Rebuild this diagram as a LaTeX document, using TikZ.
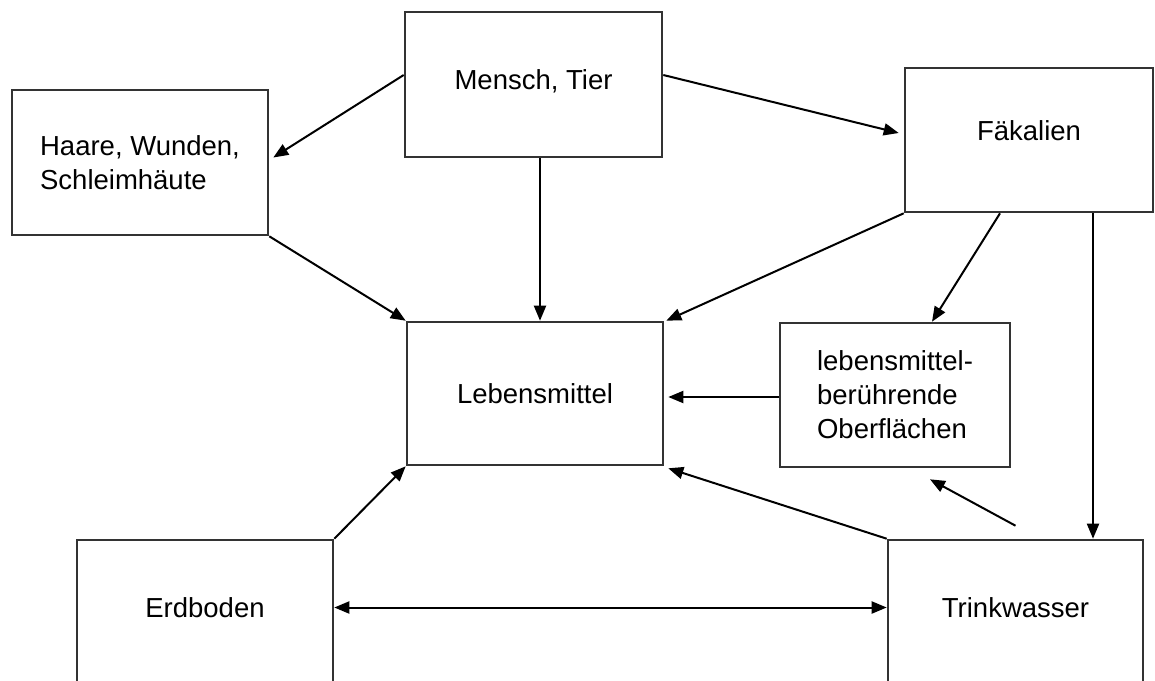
\documentclass[tikz,border=0pt]{standalone}
\usepackage{fontspec}
\setmainfont{Liberation Sans}
\usetikzlibrary{arrows.meta}
\tikzset{
  box/.style={draw=black!80, line width=2.6pt, fill=white, rectangle, inner sep=0pt,
    font=\fontsize{27.5}{34}\selectfont, text=black},
  arr/.style={draw=black, line width=2pt, -{Triangle[length=15pt,width=12pt]}},
  darr/.style={draw=black, line width=2pt, {Triangle[length=15pt,width=12pt]}-{Triangle[length=15pt,width=12pt]}}
}
\begin{document}
\begin{tikzpicture}[x=1pt,y=-1pt]
\useasboundingbox (0,0) rectangle (1155,680);
\fill[white] (0,0) rectangle (1155,680);
\node[box, minimum width=257pt, minimum height=145pt, text depth=10pt] (m) at (533.5,84.5) {Mensch, Tier};
\node[box, minimum width=256pt, minimum height=145pt, align=left] (h) at (140,162.5) {Haare, Wunden,\\Schleimhäute};
\node[box, minimum width=248pt, minimum height=144pt, text depth=18pt] (f) at (1029,140) {Fäkalien};
\node[box, minimum width=256pt, minimum height=143pt] (l) at (535,393.5) {Lebensmittel};
\node[box, minimum width=230pt, minimum height=144pt, align=left] (o) at (895,395) {lebensmittel-\\berührende\\Oberflächen};
\node[box, minimum width=256pt, minimum height=145pt, text depth=10pt] (e) at (205,612.5) {Erdboden};
\node[box, minimum width=255pt, minimum height=145pt, text depth=10pt] (t) at (1015.5,612.5) {Trinkwasser};

\draw[arr] ([yshift=9.5pt]m.west) -- ([xshift=4pt,yshift=5pt]h.east);
\draw[arr] ([yshift=9.5pt]m.east) -- ([xshift=-5pt,yshift=7pt]f.west);
\draw[arr] ([xshift=6.5pt]m.south) -- ([xshift=5pt]l.north);
\draw[arr] (h.south east) -- (l.north west);
\draw[arr] (f.south west) -- ([xshift=2pt]l.north east);
\draw[arr] ([xshift=-29pt]f.south) -- ([xshift=37pt]o.north);
\draw[arr] ([xshift=64pt]f.south) -- ([xshift=64pt]f.south |- t.north);
\draw[arr] ([yshift=-2pt]o.west) -- ([xshift=4pt,yshift=-2pt]o.west -| l.east);
\draw[arr] (t.north west) -- ([xshift=4pt,yshift=-2pt]l.south east);
\draw[arr] ([yshift=13pt]t.north) -- ([xshift=35pt,yshift=-11pt]o.south);
\draw[arr] (e.north east) -- (l.south west);
\draw[darr] ([yshift=5pt]e.east) -- ([yshift=5pt]t.west);
\end{tikzpicture}
\end{document}
